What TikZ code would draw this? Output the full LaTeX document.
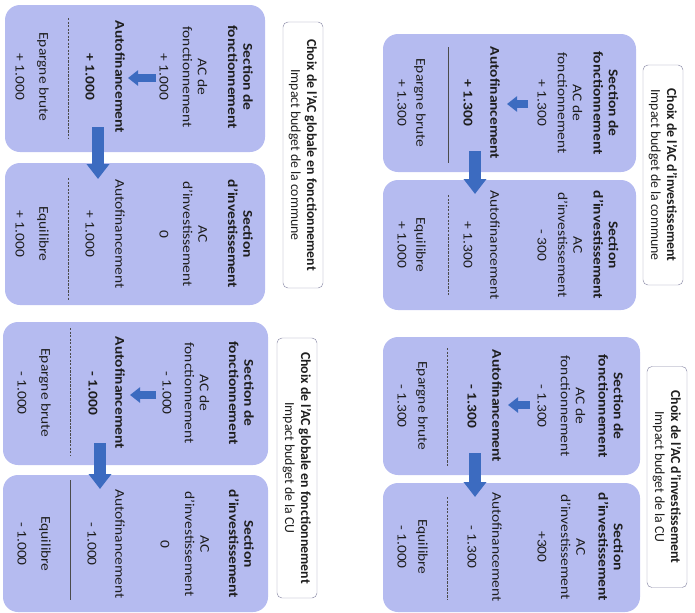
\documentclass[tikz,border=0pt]{standalone}
\usepackage{fontspec}
\setmainfont{Carlito}
\usetikzlibrary{arrows.meta}
\definecolor{boxblue}{HTML}{B5BBF0}
\definecolor{arrowblue}{HTML}{3C6BC0}
\definecolor{titleline}{HTML}{8C8CA8}
\definecolor{txt}{HTML}{1E1E1E}
\tikzset{
  secbox/.style={fill=boxblue, rounded corners=0.45cm},
  titlebox/.style={draw=titleline, fill=white, rounded corners=0.15cm, rotate=-90, align=center, inner sep=0pt, minimum height=1.2cm, font=\fontsize{11.8}{13.6}\selectfont, text=txt},
  lbl/.style={rotate=-90, xscale=1.15, align=center, inner sep=0pt, font=\fontsize{11.5}{13}\selectfont, text=txt},
  lblb/.style={lbl, font=\fontsize{11.5}{13}\selectfont\bfseries},
  sepline/.style={draw=txt!80, line width=0.5pt, dash pattern=on 2pt off 1pt},
  sepsolid/.style={draw=txt!80, line width=0.6pt},
  bigarrow/.style={arrowblue, line width=0.36cm, -{Triangle[length=0.45cm,width=0.66cm]}},
  smallarrow/.style={arrowblue, line width=0.24cm, -{Triangle[length=0.3cm,width=0.45cm]}}
}
\begin{document}
\begin{tikzpicture}[x=0.03cm, y=-0.03cm]
\useasboundingbox (0,0) rectangle (695,613);

\fill[secbox] (5,5) rectangle (265,152);
\fill[secbox] (5,163) rectangle (265,305);
\node[titlebox, minimum width=7.98cm] (Atitle) at (303,155) {{\bfseries Choix de l'AC globale en fonctionnement}\\Impact budget de la commune};
\node[lblb] (Asecf) at (240.5,77) {Section de\\fonctionnement};
\node[lbl] (Aacf) at (195,77) {AC de\\fonctionnement};
\node[lbl] (Aacfv) at (164,77) {+ 1.000};
\node[lblb] (Aautof) at (120,77) {Autofinancement};
\node[lblb] (Aautofv) at (90,77) {+ 1.000};
\draw[sepline] (68,18) -- (68,138);
\node[lbl] (Aep) at (43,77) {Epargne brute};
\node[lbl] (Aepv) at (20,77) {+ 1.000};
\node[lblb] (Aseci) at (240.5,234) {Section\\d'investissement};
\node[lbl] (Aaci) at (195,234) {AC\\d'investissement};
\node[lbl] (Aaciv) at (164,234) {0};
\node[lbl] (Aautoi) at (120,234) {Autofinancement};
\node[lbl] (Aautoiv) at (90,234) {+ 1.000};
\draw[sepline] (68,178) -- (68,300);
\node[lbl] (Aeq) at (43,234) {Equilibre};
\node[lbl] (Aeqv) at (20,234) {+ 1.000};
\coordinate (Aa1) at (156,78);
\coordinate (Aa2) at (128,78);
\draw[smallarrow] (Aa1) -- (Aa2);
\coordinate (Ab1) at (98,127);
\coordinate (Ab2) at (98,179);
\draw[bigarrow] (Ab1) -- (Ab2);

\fill[secbox] (383,34) rectangle (636,172);
\fill[secbox] (383,180) rectangle (636,310);
\node[titlebox, minimum width=6.6cm] (Btitle) at (663,175) {{\bfseries Choix de l'AC d'investissement}\\Impact budget de la commune};
\node[lblb] (Bsecf) at (606,103) {Section de\\fonctionnement};
\node[lbl] (Bacf) at (570,103) {AC de\\fonctionnement};
\node[lbl] (Bacfv) at (542,103) {+ 1.300};
\node[lblb] (Bautof) at (495,103) {Autofinancement};
\node[lblb] (Bautofv) at (468,103) {+ 1.300};
\draw[sepsolid] (448,47) -- (448,163);
\node[lbl] (Bep) at (420,103) {Epargne brute};
\node[lbl] (Bepv) at (402,103) {+ 1.300};
\node[lblb] (Bseci) at (606,245) {Section\\d'investissement};
\node[lbl] (Baci) at (570,245) {AC\\d'investissement};
\node[lbl] (Baciv) at (542,245) {- 300};
\node[lbl] (Bautoi) at (495,245) {Autofinancement};
\node[lbl] (Bautoiv) at (468,245) {+ 1.300};
\draw[sepline] (448,195) -- (448,295);
\node[lbl] (Beq) at (420,245) {Equilibre};
\node[lbl] (Beqv) at (402,245) {+ 1.000};
\coordinate (Ba1) at (528,104);
\coordinate (Ba2) at (507,104);
\draw[smallarrow] (Ba1) -- (Ba2);
\coordinate (Bb1) at (475,151);
\coordinate (Bb2) at (475,194);
\draw[bigarrow] (Bb1) -- (Bb2);

\fill[secbox] (3,322) rectangle (268,465);
\fill[secbox] (3,475) rectangle (268,612);
\node[titlebox, minimum width=7.8cm] (Ctitle) at (297,468) {{\bfseries Choix de l'AC globale en fonctionnement}\\Impact budget de la CU};
\node[lblb] (Csecf) at (241.5,393) {Section de\\fonctionnement};
\node[lbl] (Cacf) at (197,393) {AC de\\fonctionnement};
\node[lbl] (Cacfv) at (167,393) {- 1.000};
\node[lblb] (Cautof) at (120,393) {Autofinancement};
\node[lblb] (Cautofv) at (93,393) {- 1.000};
\draw[sepline] (70,328) -- (70,455);
\node[lbl] (Cep) at (45,393) {Epargne brute};
\node[lbl] (Cepv) at (22,393) {- 1.000};
\node[lblb] (Cseci) at (241.5,544) {Section\\d'investissement};
\node[lbl] (Caci) at (197,544) {AC\\d'investissement};
\node[lbl] (Caciv) at (165,544) {0};
\node[lbl] (Cautoi) at (120,544) {Autofinancement};
\node[lbl] (Cautoiv) at (92,544) {- 1.000};
\draw[sepsolid] (70,480) -- (70,600);
\node[lbl] (Ceq) at (45,544) {Equilibre};
\node[lbl] (Ceqv) at (22,544) {- 1.000};
\coordinate (Ca1) at (156,395);
\coordinate (Ca2) at (130,395);
\draw[smallarrow] (Ca1) -- (Ca2);
\coordinate (Cb1) at (100,443);
\coordinate (Cb2) at (100,489);
\draw[bigarrow] (Cb1) -- (Cb2);

\fill[secbox] (383,337) rectangle (640,475);
\fill[secbox] (383,483) rectangle (640,612);
\node[titlebox, minimum width=6.63cm] (Dtitle) at (667,477) {{\bfseries Choix de l'AC d'investissement}\\Impact budget de la CU};
\node[lblb] (Dsecf) at (611,406) {Section de\\fonctionnement};
\node[lbl] (Dacf) at (573,406) {AC de\\fonctionnement};
\node[lbl] (Dacfv) at (542,406) {- 1.300};
\node[lblb] (Dautof) at (497,406) {Autofinancement};
\node[lblb] (Dautofv) at (472,406) {- 1.300};
\draw[sepline] (447,348) -- (447,467);
\node[lbl] (Dep) at (422,406) {Epargne brute};
\node[lbl] (Depv) at (402,406) {- 1.300};
\node[lblb] (Dseci) at (611,547) {Section\\d'investissement};
\node[lbl] (Daci) at (573,547) {AC\\d'investissement};
\node[lbl] (Daciv) at (542,547) {+300};
\node[lbl] (Dautoi) at (497,547) {Autofinancement};
\node[lbl] (Dautoiv) at (472,547) {- 1.300};
\draw[sepline] (447,497) -- (447,600);
\node[lbl] (Deq) at (422,547) {Equilibre};
\node[lbl] (Deqv) at (402,547) {- 1.000};
\coordinate (Da1) at (530,405);
\coordinate (Da2) at (508,405);
\draw[smallarrow] (Da1) -- (Da2);
\coordinate (Db1) at (475,453);
\coordinate (Db2) at (475,497);
\draw[bigarrow] (Db1) -- (Db2);
\end{tikzpicture}
\end{document}
